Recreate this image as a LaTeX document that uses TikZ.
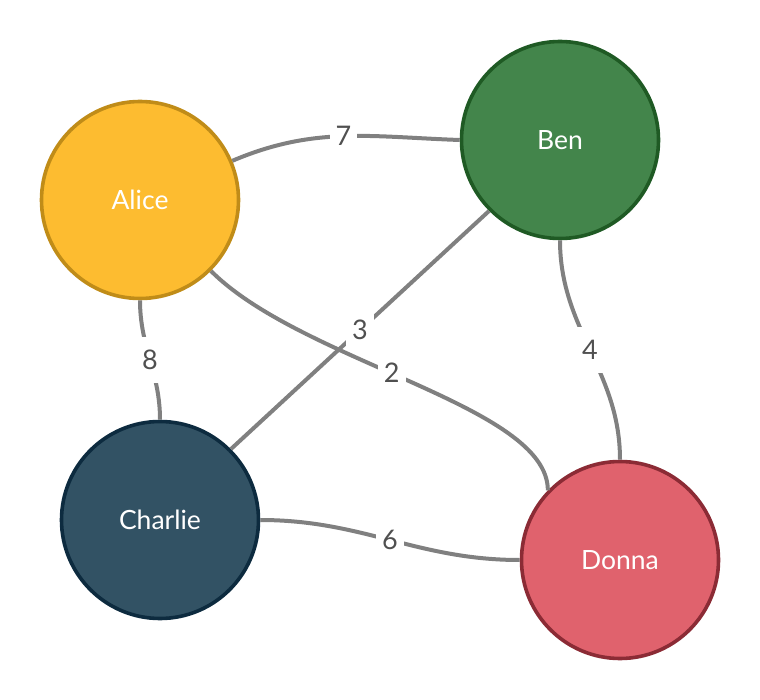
\documentclass[tikz,border=0pt]{standalone}
\usepackage{fontspec}
\setmainfont{Lato}
\definecolor{aliceF}{HTML}{FDBC30}
\definecolor{aliceD}{HTML}{C08C18}
\definecolor{benF}{HTML}{43854B}
\definecolor{benD}{HTML}{1F5A24}
\definecolor{charF}{HTML}{325264}
\definecolor{charD}{HTML}{0D2B3F}
\definecolor{donF}{HTML}{E0626D}
\definecolor{donD}{HTML}{8B2B35}
\definecolor{edgeC}{HTML}{808080}
\definecolor{labC}{HTML}{505050}
\tikzset{
  person/.style={circle, line width=3.6pt, minimum size=197pt, inner sep=0pt,
    text=white, font=\fontsize{26.5}{30}\selectfont},
  link/.style={draw=edgeC, line width=4pt},
  wlab/.style={fill=white, inner xsep=6pt, inner ysep=13pt, text height=19pt, text depth=0pt,
    text=labC, font=\fontsize{27}{30}\selectfont}
}
\begin{document}
\begin{tikzpicture}[x=1pt,y=-1pt]
\useasboundingbox (0,0) rectangle (760,700);
\node[person, fill=aliceF, draw=aliceD] (alice) at (140,200) {Alice};
\node[person, fill=benF, draw=benD] (ben) at (560,140) {Ben};
\node[person, fill=charF, draw=charD] (charlie) at (160,520) {Charlie};
\node[person, fill=donF, draw=donD] (donna) at (620,560) {Donna};
\draw[link] (alice.23) to[out=23,in=178] node[wlab, pos=0.5] (l7) {7} (ben.180);
\draw[link] (ben.225) -- node[wlab] (l3) {3} (charlie.45);
\draw[link] (alice.-45) .. controls +(92,92) and +(0,-85) .. node[wlab, pos=0.45] (l2) {2} (donna.136);
\draw[link] (alice.south) to[out=-90,in=90] node[wlab] (l8) {8} (charlie.north);
\draw[link] (ben.south) to[out=-90,in=90] node[wlab] (l4) {4} (donna.north);
\draw[link] (charlie.east) to[out=0,in=180] node[wlab] (l6) {6} (donna.west);
\end{tikzpicture}
\end{document}
